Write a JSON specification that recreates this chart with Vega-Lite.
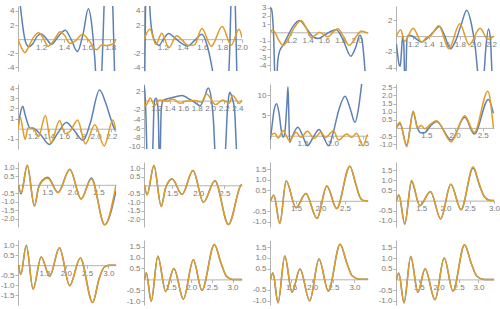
{
"$schema":"https://vega.github.io/schema/vega-lite/v6.json",
"padding":{"left":0,"top":3,"right":0,"bottom":0},
"datasets":{
"p1":[{"s":"a","x":1.0,"y":10},{"s":"a","x":1.01,"y":7},{"s":"a","x":1.04,"y":2},{"s":"a","x":1.07,"y":-0.6},{"s":"a","x":1.095,"y":-1.05},{"s":"a","x":1.13,"y":-0.6},{"s":"a","x":1.165,"y":0.4},{"s":"a","x":1.2,"y":0.75},{"s":"a","x":1.25,"y":0},{"s":"a","x":1.29,"y":-0.75},{"s":"a","x":1.35,"y":0.4},{"s":"a","x":1.41,"y":1.25},{"s":"a","x":1.46,"y":0},{"s":"a","x":1.515,"y":-1.75},{"s":"a","x":1.565,"y":0.8},{"s":"a","x":1.61,"y":4.3},{"s":"a","x":1.64,"y":2},{"s":"a","x":1.665,"y":-2.5},{"s":"a","x":1.69,"y":-8},{"s":"a","x":1.715,"y":-8},{"s":"a","x":1.735,"y":-1},{"s":"a","x":1.755,"y":8},{"s":"a","x":1.79,"y":12},{"s":"a","x":1.815,"y":8},{"s":"a","x":1.83,"y":0},{"s":"a","x":1.845,"y":-9},{"s":"a","x":1.855,"y":-12},
{"s":"b","x":1.0,"y":0},{"s":"b","x":1.03,"y":-1.2},{"s":"b","x":1.06,"y":-1.9},{"s":"b","x":1.1,"y":-0.8},{"s":"b","x":1.14,"y":0.4},{"s":"b","x":1.18,"y":0.9},{"s":"b","x":1.22,"y":0.1},{"s":"b","x":1.26,"y":-1.0},{"s":"b","x":1.31,"y":-0.2},{"s":"b","x":1.365,"y":1.05},{"s":"b","x":1.41,"y":0.4},{"s":"b","x":1.45,"y":-0.6},{"s":"b","x":1.5,"y":-0.2},{"s":"b","x":1.56,"y":0.7},{"s":"b","x":1.62,"y":-0.3},{"s":"b","x":1.68,"y":-1.5},{"s":"b","x":1.73,"y":-0.8},{"s":"b","x":1.77,"y":-0.9},{"s":"b","x":1.81,"y":-0.75},{"s":"b","x":1.835,"y":-0.5},{"s":"b","x":1.85,"y":0}],
"p2":[{"s":"a","x":1.01,"y":-14},{"s":"a","x":1.02,"y":-2},{"s":"a","x":1.03,"y":8},{"s":"a","x":1.045,"y":10},{"s":"a","x":1.06,"y":7},{"s":"a","x":1.075,"y":3},{"s":"a","x":1.1,"y":0.5},{"s":"a","x":1.13,"y":-0.5},{"s":"a","x":1.16,"y":-0.86},{"s":"a","x":1.21,"y":0.1},{"s":"a","x":1.26,"y":0.8},{"s":"a","x":1.32,"y":0.2},{"s":"a","x":1.38,"y":-0.5},{"s":"a","x":1.45,"y":-0.95},{"s":"a","x":1.52,"y":-0.2},{"s":"a","x":1.595,"y":0.7},{"s":"a","x":1.65,"y":-1.0},{"s":"a","x":1.69,"y":-3.5},{"s":"a","x":1.72,"y":-6},{"s":"a","x":1.78,"y":-14},{"s":"a","x":1.85,"y":-8},{"s":"a","x":1.875,"y":-2},{"s":"a","x":1.89,"y":6},{"s":"a","x":1.91,"y":12},{"s":"a","x":1.93,"y":6},{"s":"a","x":1.945,"y":-3},{"s":"a","x":1.96,"y":-12},{"s":"a","x":2.0,"y":-20},
{"s":"b","x":1.01,"y":0},{"s":"b","x":1.07,"y":1.4},{"s":"b","x":1.13,"y":-0.7},{"s":"b","x":1.19,"y":0.85},{"s":"b","x":1.26,"y":-1.2},{"s":"b","x":1.34,"y":0.5},{"s":"b","x":1.4,"y":-0.2},{"s":"b","x":1.46,"y":-0.9},{"s":"b","x":1.52,"y":-0.8},{"s":"b","x":1.595,"y":1.5},{"s":"b","x":1.69,"y":-1.0},{"s":"b","x":1.8,"y":1.8},{"s":"b","x":1.89,"y":-0.85},{"s":"b","x":1.97,"y":1.4},{"s":"b","x":2.0,"y":0.2}],
"p3":[{"s":"a","x":0.943,"y":3.0},{"s":"a","x":0.955,"y":2.9},{"s":"a","x":0.97,"y":2.0},{"s":"a","x":0.985,"y":-0.5},{"s":"a","x":0.997,"y":-5},{"s":"a","x":1.01,"y":-9},{"s":"a","x":1.022,"y":-6},{"s":"a","x":1.035,"y":-3.5},{"s":"a","x":1.06,"y":-2.2},{"s":"a","x":1.1,"y":-1.6},{"s":"a","x":1.15,"y":-0.6},{"s":"a","x":1.22,"y":0.7},{"s":"a","x":1.3,"y":1.45},{"s":"a","x":1.38,"y":0.6},{"s":"a","x":1.45,"y":-0.4},{"s":"a","x":1.53,"y":-0.75},{"s":"a","x":1.6,"y":-0.4},{"s":"a","x":1.68,"y":0.1},{"s":"a","x":1.75,"y":0.3},{"s":"a","x":1.83,"y":-0.8},{"s":"a","x":1.93,"y":-2.9},{"s":"a","x":1.99,"y":-1.8},{"s":"a","x":2.04,"y":-0.35},{"s":"a","x":2.065,"y":-0.8},{"s":"a","x":2.09,"y":-3.0},{"s":"a","x":2.11,"y":-5.5},{"s":"a","x":2.14,"y":-9},
{"s":"b","x":0.945,"y":0},{"s":"b","x":0.975,"y":0.3},{"s":"b","x":1.0,"y":0},{"s":"b","x":1.05,"y":-1.0},{"s":"b","x":1.1,"y":-1.6},{"s":"b","x":1.17,"y":-0.7},{"s":"b","x":1.24,"y":0.6},{"s":"b","x":1.32,"y":1.45},{"s":"b","x":1.39,"y":0.4},{"s":"b","x":1.445,"y":-0.67},{"s":"b","x":1.5,"y":-0.3},{"s":"b","x":1.547,"y":0},{"s":"b","x":1.6,"y":-0.3},{"s":"b","x":1.65,"y":-0.54},{"s":"b","x":1.71,"y":0},{"s":"b","x":1.77,"y":0.42},{"s":"b","x":1.84,"y":-0.5},{"s":"b","x":1.91,"y":-1.58},{"s":"b","x":1.99,"y":-0.6},{"s":"b","x":2.06,"y":0.17},{"s":"b","x":2.1,"y":0.05},{"s":"b","x":2.14,"y":-0.1}],
"p4":[{"s":"a","x":0.985,"y":-1.0},{"s":"a","x":1.0,"y":-2.2},{"s":"a","x":1.02,"y":-3.6},{"s":"a","x":1.035,"y":-3.8},{"s":"a","x":1.05,"y":-2.0},{"s":"a","x":1.065,"y":0},{"s":"a","x":1.08,"y":-1.0},{"s":"a","x":1.09,"y":-5},{"s":"a","x":1.1,"y":-7},{"s":"a","x":1.11,"y":-4},{"s":"a","x":1.12,"y":-0.5},{"s":"a","x":1.14,"y":0.1},{"s":"a","x":1.2,"y":-0.05},{"s":"a","x":1.26,"y":-0.5},{"s":"a","x":1.31,"y":-0.75},{"s":"a","x":1.38,"y":-0.3},{"s":"a","x":1.46,"y":0.5},{"s":"a","x":1.54,"y":1.2},{"s":"a","x":1.6,"y":0.2},{"s":"a","x":1.68,"y":-1.6},{"s":"a","x":1.75,"y":-0.5},{"s":"a","x":1.82,"y":1.5},{"s":"a","x":1.89,"y":3.25},{"s":"a","x":1.95,"y":1.5},{"s":"a","x":2.0,"y":-1.5},{"s":"a","x":2.03,"y":-4.5},{"s":"a","x":2.06,"y":-7},{"s":"a","x":2.08,"y":-7},{"s":"a","x":2.11,"y":-5},{"s":"a","x":2.135,"y":-1.5},{"s":"a","x":2.17,"y":0.9},{"s":"a","x":2.195,"y":-0.5},{"s":"a","x":2.215,"y":-5},{"s":"a","x":2.24,"y":-10},
{"s":"b","x":0.985,"y":0},{"s":"b","x":1.04,"y":0.8},{"s":"b","x":1.09,"y":-0.65},{"s":"b","x":1.2,"y":1.0},{"s":"b","x":1.31,"y":-0.75},{"s":"b","x":1.37,"y":-0.2},{"s":"b","x":1.43,"y":0.1},{"s":"b","x":1.53,"y":1.3},{"s":"b","x":1.66,"y":-1.6},{"s":"b","x":1.8,"y":1.55},{"s":"b","x":1.92,"y":-1.1},{"s":"b","x":2.06,"y":1.0},{"s":"b","x":2.16,"y":-0.4},{"s":"b","x":2.24,"y":0}],
"p5":[{"s":"a","x":1.01,"y":0},{"s":"a","x":1.04,"y":1.5},{"s":"a","x":1.07,"y":2.2},{"s":"a","x":1.1,"y":1.4},{"s":"a","x":1.16,"y":0.1},{"s":"a","x":1.22,"y":0},{"s":"a","x":1.3,"y":-0.6},{"s":"a","x":1.41,"y":-1.55},{"s":"a","x":1.52,"y":-0.4},{"s":"a","x":1.625,"y":0.6},{"s":"a","x":1.73,"y":-0.2},{"s":"a","x":1.84,"y":-1.15},{"s":"a","x":1.93,"y":0.5},{"s":"a","x":2.05,"y":3.8},{"s":"a","x":2.13,"y":2.5},{"s":"a","x":2.2,"y":0.8},{"s":"a","x":2.24,"y":0},{"s":"a","x":2.26,"y":-0.25},
{"s":"b","x":1.01,"y":0},{"s":"b","x":1.04,"y":1.1},{"s":"b","x":1.07,"y":0},{"s":"b","x":1.1,"y":-1.05},{"s":"b","x":1.14,"y":0.1},{"s":"b","x":1.2,"y":0.1},{"s":"b","x":1.27,"y":-0.8},{"s":"b","x":1.36,"y":1.3},{"s":"b","x":1.43,"y":-1.4},{"s":"b","x":1.54,"y":0.8},{"s":"b","x":1.61,"y":-0.5},{"s":"b","x":1.68,"y":-0.2},{"s":"b","x":1.77,"y":0.85},{"s":"b","x":1.87,"y":-1.5},{"s":"b","x":1.99,"y":0.4},{"s":"b","x":2.11,"y":-1.7},{"s":"b","x":2.22,"y":0.85},{"s":"b","x":2.26,"y":-0.25}],
"p6":[{"s":"a","x":1.02,"y":3.3},{"s":"a","x":1.035,"y":1.5},{"s":"a","x":1.05,"y":-4},{"s":"a","x":1.06,"y":-10},{"s":"a","x":1.08,"y":-16},{"s":"a","x":1.13,"y":-16},{"s":"a","x":1.155,"y":-8},{"s":"a","x":1.166,"y":-2},{"s":"a","x":1.18,"y":0.2},{"s":"a","x":1.2,"y":0.5},{"s":"a","x":1.22,"y":-0.5},{"s":"a","x":1.235,"y":-5},{"s":"a","x":1.243,"y":-12},{"s":"a","x":1.255,"y":-16},{"s":"a","x":1.265,"y":-8},{"s":"a","x":1.275,"y":-2},{"s":"a","x":1.3,"y":0},{"s":"a","x":1.4,"y":0.5},{"s":"a","x":1.5,"y":0.9},{"s":"a","x":1.585,"y":1.1},{"s":"a","x":1.67,"y":0.5},{"s":"a","x":1.75,"y":-0.15},{"s":"a","x":1.85,"y":-1.1},{"s":"a","x":1.91,"y":0.5},{"s":"a","x":1.97,"y":2.75},{"s":"a","x":2.02,"y":0},{"s":"a","x":2.05,"y":-5},{"s":"a","x":2.07,"y":-11},{"s":"a","x":2.12,"y":-16},{"s":"a","x":2.2,"y":-16},{"s":"a","x":2.235,"y":-8},{"s":"a","x":2.25,"y":-3},{"s":"a","x":2.27,"y":0.5},{"s":"a","x":2.29,"y":1.8},{"s":"a","x":2.32,"y":0.8},{"s":"a","x":2.36,"y":-2},{"s":"a","x":2.38,"y":-8},{"s":"a","x":2.4,"y":-14},{"s":"a","x":2.47,"y":-20},
{"s":"b","x":1.02,"y":-0.3},{"s":"b","x":1.045,"y":-1.1},{"s":"b","x":1.113,"y":0.58},{"s":"b","x":1.176,"y":-1.09},{"s":"b","x":1.248,"y":0.14},{"s":"b","x":1.368,"y":-0.14},{"s":"b","x":1.44,"y":0.36},{"s":"b","x":1.56,"y":-0.58},{"s":"b","x":1.63,"y":-0.14},{"s":"b","x":1.777,"y":0},{"s":"b","x":1.87,"y":-0.36},{"s":"b","x":1.945,"y":1.45},{"s":"b","x":2.08,"y":-0.87},{"s":"b","x":2.186,"y":0.14},{"s":"b","x":2.28,"y":-0.58},{"s":"b","x":2.33,"y":1.09},{"s":"b","x":2.43,"y":-0.58},{"s":"b","x":2.47,"y":0.14}],
"p7":[{"s":"a","x":0.965,"y":-1.0},{"s":"a","x":0.99,"y":2},{"s":"a","x":1.03,"y":6.5},{"s":"a","x":1.07,"y":7.9},{"s":"a","x":1.11,"y":5.5},{"s":"a","x":1.15,"y":1.0},{"s":"a","x":1.18,"y":-0.4},{"s":"a","x":1.21,"y":1.5},{"s":"a","x":1.24,"y":8},{"s":"a","x":1.257,"y":12.1},{"s":"a","x":1.27,"y":6},{"s":"a","x":1.285,"y":-1.7},{"s":"a","x":1.32,"y":-0.5},{"s":"a","x":1.42,"y":2.1},{"s":"a","x":1.5,"y":0},{"s":"a","x":1.58,"y":-2.5},{"s":"a","x":1.67,"y":-0.5},{"s":"a","x":1.77,"y":1.5},{"s":"a","x":1.85,"y":-0.5},{"s":"a","x":1.93,"y":-2.5},{"s":"a","x":2.0,"y":0.5},{"s":"a","x":2.1,"y":6.5},{"s":"a","x":2.2,"y":9.75},{"s":"a","x":2.29,"y":6.5},{"s":"a","x":2.365,"y":3.3},{"s":"a","x":2.42,"y":6.5},{"s":"a","x":2.47,"y":12.1},{"s":"a","x":2.5,"y":16},
{"s":"b","x":0.965,"y":0},{"s":"b","x":1.04,"y":0.58},{"s":"b","x":1.095,"y":-0.58},{"s":"b","x":1.176,"y":1.25},{"s":"b","x":1.284,"y":-1.25},{"s":"b","x":1.39,"y":0.83},{"s":"b","x":1.47,"y":-0.42},{"s":"b","x":1.58,"y":1.08},{"s":"b","x":1.69,"y":-0.67},{"s":"b","x":1.8,"y":0.83},{"s":"b","x":1.88,"y":-0.42},{"s":"b","x":2.01,"y":1.25},{"s":"b","x":2.09,"y":-1.08},{"s":"b","x":2.23,"y":0.42},{"s":"b","x":2.31,"y":-0.42},{"s":"b","x":2.39,"y":0.58},{"s":"b","x":2.5,"y":-2.5},{"s":"b","x":2.565,"y":0},{"s":"b","x":2.58,"y":0.3}],
"p8":[{"s":"a","x":0.965,"y":0},{"s":"a","x":1.03,"y":0.25},{"s":"a","x":1.15,"y":-1.05},{"s":"a","x":1.265,"y":0.95},{"s":"a","x":1.34,"y":0},{"s":"a","x":1.4,"y":-0.3},{"s":"a","x":1.46,"y":-0.3},{"s":"a","x":1.58,"y":0.15},{"s":"a","x":1.68,"y":0.4},{"s":"a","x":1.94,"y":-0.75},{"s":"a","x":2.18,"y":0.65},{"s":"a","x":2.35,"y":-0.38},{"s":"a","x":2.6,"y":1.75},{"s":"a","x":2.69,"y":0.9},
{"s":"b","x":0.965,"y":0},{"s":"b","x":1.03,"y":0.34},{"s":"b","x":1.15,"y":-1.16},{"s":"b","x":1.265,"y":1.04},{"s":"b","x":1.34,"y":0},{"s":"b","x":1.41,"y":0.14},{"s":"b","x":1.47,"y":-0.05},{"s":"b","x":1.58,"y":0.25},{"s":"b","x":1.68,"y":0.44},{"s":"b","x":1.94,"y":-0.86},{"s":"b","x":2.18,"y":0.74},{"s":"b","x":2.35,"y":-0.28},{"s":"b","x":2.59,"y":2.25},{"s":"b","x":2.69,"y":0}],
"p9":[{"s":"a","x":0.94,"y":0},{"s":"a","x":0.99,"y":-0.55},{"s":"a","x":1.11,"y":1.16},{"s":"a","x":1.25,"y":-1.25},{"s":"a","x":1.33,"y":-0.15},{"s":"a","x":1.4,"y":0.25},{"s":"a","x":1.51,"y":0.45},{"s":"a","x":1.71,"y":-0.45},{"s":"a","x":1.94,"y":0.92},{"s":"a","x":2.16,"y":-0.84},{"s":"a","x":2.36,"y":0.4},{"s":"a","x":2.62,"y":-2.37},{"s":"a","x":2.84,"y":-0.35},
{"s":"b","x":0.94,"y":0},{"s":"b","x":0.99,"y":-0.47},{"s":"b","x":1.11,"y":1.16},{"s":"b","x":1.25,"y":-1.25},{"s":"b","x":1.33,"y":-0.2},{"s":"b","x":1.4,"y":0.2},{"s":"b","x":1.51,"y":0.39},{"s":"b","x":1.71,"y":-0.47},{"s":"b","x":1.94,"y":0.9},{"s":"b","x":2.16,"y":-0.84},{"s":"b","x":2.36,"y":0.35},{"s":"b","x":2.62,"y":-2.37},{"s":"b","x":2.84,"y":0}],
"p10":[{"s":"a","x":0.97,"y":0},{"s":"a","x":1.02,"y":-0.56},{"s":"a","x":1.15,"y":1.16},{"s":"a","x":1.29,"y":-1.24},{"s":"a","x":1.37,"y":-0.2},{"s":"a","x":1.42,"y":0.15},{"s":"a","x":1.5,"y":0.36},{"s":"a","x":1.69,"y":-0.54},{"s":"a","x":1.9,"y":0.86},{"s":"a","x":2.1,"y":-1.0},{"s":"a","x":2.32,"y":0.26},{"s":"a","x":2.58,"y":-2.3},{"s":"a","x":2.82,"y":0},{"s":"a","x":2.84,"y":0.05},
{"s":"b","x":0.97,"y":0},{"s":"b","x":1.02,"y":-0.56},{"s":"b","x":1.15,"y":1.16},{"s":"b","x":1.29,"y":-1.24},{"s":"b","x":1.37,"y":-0.2},{"s":"b","x":1.42,"y":0.15},{"s":"b","x":1.5,"y":0.36},{"s":"b","x":1.69,"y":-0.54},{"s":"b","x":1.9,"y":0.86},{"s":"b","x":2.1,"y":-1.0},{"s":"b","x":2.32,"y":0.26},{"s":"b","x":2.58,"y":-2.3},{"s":"b","x":2.82,"y":0},{"s":"b","x":2.84,"y":0.05}],
"p11":[{"s":"a","x":0.98,"y":0},{"s":"a","x":1.05,"y":0.27},{"s":"a","x":1.17,"y":-1.08},{"s":"a","x":1.3,"y":0.94},{"s":"a","x":1.5,"y":-0.33},{"s":"a","x":1.7,"y":0.35},{"s":"a","x":1.93,"y":-0.84},{"s":"a","x":2.13,"y":0.7},{"s":"a","x":2.33,"y":-0.37},{"s":"a","x":2.6,"y":1.65},{"s":"a","x":2.72,"y":0.8},{"s":"a","x":2.8,"y":0.2},{"s":"a","x":2.87,"y":0.02},{"s":"a","x":2.97,"y":0},
{"s":"b","x":0.98,"y":0},{"s":"b","x":1.05,"y":0.27},{"s":"b","x":1.17,"y":-1.08},{"s":"b","x":1.3,"y":0.94},{"s":"b","x":1.5,"y":-0.33},{"s":"b","x":1.7,"y":0.35},{"s":"b","x":1.93,"y":-0.84},{"s":"b","x":2.13,"y":0.7},{"s":"b","x":2.33,"y":-0.37},{"s":"b","x":2.6,"y":1.65},{"s":"b","x":2.72,"y":0.8},{"s":"b","x":2.8,"y":0.2},{"s":"b","x":2.87,"y":0.02},{"s":"b","x":2.97,"y":0}],
"p12":[{"s":"a","x":0.99,"y":0},{"s":"a","x":1.04,"y":0.28},{"s":"a","x":1.16,"y":-1.15},{"s":"a","x":1.3,"y":0.93},{"s":"a","x":1.47,"y":-0.25},{"s":"a","x":1.69,"y":0.45},{"s":"a","x":1.9,"y":-0.9},{"s":"a","x":2.11,"y":0.8},{"s":"a","x":2.32,"y":-0.45},{"s":"a","x":2.57,"y":1.6},{"s":"a","x":2.7,"y":0.75},{"s":"a","x":2.8,"y":0.2},{"s":"a","x":2.9,"y":0.02},{"s":"a","x":3.0,"y":0},
{"s":"b","x":0.99,"y":0},{"s":"b","x":1.04,"y":0.28},{"s":"b","x":1.16,"y":-1.15},{"s":"b","x":1.3,"y":1.0},{"s":"b","x":1.47,"y":-0.25},{"s":"b","x":1.69,"y":0.45},{"s":"b","x":1.9,"y":-0.9},{"s":"b","x":2.11,"y":0.8},{"s":"b","x":2.32,"y":-0.45},{"s":"b","x":2.57,"y":1.67},{"s":"b","x":2.7,"y":0.8},{"s":"b","x":2.8,"y":0.2},{"s":"b","x":2.9,"y":0.02},{"s":"b","x":3.0,"y":0}],
"p13":[{"s":"a","x":0.89,"y":0},{"s":"a","x":0.94,"y":-0.47},{"s":"a","x":1.07,"y":1.0},{"s":"a","x":1.23,"y":-1.2},{"s":"a","x":1.42,"y":0.42},{"s":"a","x":1.62,"y":-0.56},{"s":"a","x":1.85,"y":0.88},{"s":"a","x":2.09,"y":-1.03},{"s":"a","x":2.34,"y":0.37},{"s":"a","x":2.63,"y":-1.88},{"s":"a","x":2.78,"y":-0.7},{"s":"a","x":2.9,"y":-0.1},{"s":"a","x":3.02,"y":0},{"s":"a","x":3.18,"y":0},
{"s":"b","x":0.89,"y":0},{"s":"b","x":0.94,"y":-0.47},{"s":"b","x":1.07,"y":1.0},{"s":"b","x":1.23,"y":-1.2},{"s":"b","x":1.42,"y":0.42},{"s":"b","x":1.62,"y":-0.56},{"s":"b","x":1.85,"y":0.88},{"s":"b","x":2.09,"y":-1.03},{"s":"b","x":2.34,"y":0.37},{"s":"b","x":2.63,"y":-1.88},{"s":"b","x":2.78,"y":-0.7},{"s":"b","x":2.9,"y":-0.1},{"s":"b","x":3.02,"y":0},{"s":"b","x":3.18,"y":0}],
"p14":[{"s":"a","x":0.87,"y":0},{"s":"a","x":0.91,"y":0.3},{"s":"a","x":1.03,"y":-1.0},{"s":"a","x":1.19,"y":1.06},{"s":"a","x":1.38,"y":-0.55},{"s":"a","x":1.58,"y":0.5},{"s":"a","x":1.81,"y":-0.9},{"s":"a","x":2.05,"y":0.9},{"s":"a","x":2.26,"y":-0.5},{"s":"a","x":2.56,"y":1.6},{"s":"a","x":2.72,"y":0.75},{"s":"a","x":2.85,"y":0.15},{"s":"a","x":3.0,"y":0},{"s":"a","x":3.23,"y":0},
{"s":"b","x":0.87,"y":0},{"s":"b","x":0.91,"y":0.3},{"s":"b","x":1.03,"y":-1.0},{"s":"b","x":1.19,"y":1.06},{"s":"b","x":1.38,"y":-0.55},{"s":"b","x":1.58,"y":0.5},{"s":"b","x":1.81,"y":-0.9},{"s":"b","x":2.05,"y":0.9},{"s":"b","x":2.26,"y":-0.5},{"s":"b","x":2.56,"y":1.6},{"s":"b","x":2.72,"y":0.75},{"s":"b","x":2.85,"y":0.15},{"s":"b","x":3.0,"y":0},{"s":"b","x":3.23,"y":0}],
"p15":[{"s":"a","x":1.01,"y":0},{"s":"a","x":1.07,"y":0.29},{"s":"a","x":1.19,"y":-1.1},{"s":"a","x":1.35,"y":1.08},{"s":"a","x":1.52,"y":-0.6},{"s":"a","x":1.71,"y":0.48},{"s":"a","x":1.94,"y":-1.0},{"s":"a","x":2.16,"y":0.95},{"s":"a","x":2.38,"y":-0.55},{"s":"a","x":2.66,"y":1.63},{"s":"a","x":2.82,"y":0.75},{"s":"a","x":2.95,"y":0.15},{"s":"a","x":3.13,"y":0},{"s":"a","x":3.32,"y":0},
{"s":"b","x":1.01,"y":0},{"s":"b","x":1.07,"y":0.29},{"s":"b","x":1.19,"y":-1.1},{"s":"b","x":1.35,"y":1.08},{"s":"b","x":1.52,"y":-0.6},{"s":"b","x":1.71,"y":0.48},{"s":"b","x":1.94,"y":-1.0},{"s":"b","x":2.16,"y":0.95},{"s":"b","x":2.38,"y":-0.55},{"s":"b","x":2.66,"y":1.63},{"s":"b","x":2.82,"y":0.75},{"s":"b","x":2.95,"y":0.15},{"s":"b","x":3.13,"y":0},{"s":"b","x":3.32,"y":0}],
"p16":[{"s":"a","x":0.945,"y":0},{"s":"a","x":1.0,"y":0.3},{"s":"a","x":1.13,"y":-1.1},{"s":"a","x":1.3,"y":1.08},{"s":"a","x":1.48,"y":-0.6},{"s":"a","x":1.66,"y":0.5},{"s":"a","x":1.91,"y":-0.95},{"s":"a","x":2.14,"y":1.0},{"s":"a","x":2.36,"y":-0.55},{"s":"a","x":2.65,"y":1.63},{"s":"a","x":2.82,"y":0.75},{"s":"a","x":2.96,"y":0.15},{"s":"a","x":3.14,"y":0},{"s":"a","x":3.39,"y":0},
{"s":"b","x":0.945,"y":0},{"s":"b","x":1.0,"y":0.3},{"s":"b","x":1.13,"y":-1.1},{"s":"b","x":1.3,"y":1.08},{"s":"b","x":1.48,"y":-0.6},{"s":"b","x":1.66,"y":0.5},{"s":"b","x":1.91,"y":-0.95},{"s":"b","x":2.14,"y":1.0},{"s":"b","x":2.36,"y":-0.55},{"s":"b","x":2.65,"y":1.63},{"s":"b","x":2.82,"y":0.75},{"s":"b","x":2.96,"y":0.15},{"s":"b","x":3.14,"y":0},{"s":"b","x":3.39,"y":0}]
},
"columns":4,
"bounds":"flush",
"spacing":{"row":13,"column":28},
"concat":[
{"data":{"name":"p1"},"width":98,"height":65,"mark":{"type":"line","clip":true,"interpolate":"monotone","strokeWidth":1.5},"encoding":{"x":{"field":"x","type":"quantitative","scale":{"domain":[1.0,1.85],"nice":false,"zero":false},"axis":{"title":null,"values":[1.2,1.4,1.6,1.8],"format":".1f","offset":-31.8}},"y":{"field":"y","type":"quantitative","scale":{"domain":[-4.5,4.7],"nice":false,"zero":false},"axis":{"title":null,"values":[-4,-2,2,4],"labelExpr":"datum.value < 0 ? '-' + format(-datum.value, 'd') : format(datum.value, 'd')"}},"color":{"field":"s","type":"nominal","scale":{"domain":["a","b"],"range":["#5E81B5","#E19C24"]},"legend":null}}},
{"data":{"name":"p2"},"width":98,"height":65,"mark":{"type":"line","clip":true,"interpolate":"monotone","strokeWidth":1.5},"encoding":{"x":{"field":"x","type":"quantitative","scale":{"domain":[1.01,2.0],"nice":false,"zero":false},"axis":{"title":null,"values":[1.2,1.4,1.6,1.8,2.0],"format":".1f","offset":-31.8}},"y":{"field":"y","type":"quantitative","scale":{"domain":[-4.5,4.7],"nice":false,"zero":false},"axis":{"title":null,"values":[-4,-2,2,4],"labelExpr":"datum.value < 0 ? '-' + format(-datum.value, 'd') : format(datum.value, 'd')"}},"color":{"field":"s","type":"nominal","scale":{"domain":["a","b"],"range":["#5E81B5","#E19C24"]},"legend":null}}},
{"data":{"name":"p3"},"width":98,"height":65,"mark":{"type":"line","clip":true,"interpolate":"monotone","strokeWidth":1.5},"encoding":{"x":{"field":"x","type":"quantitative","scale":{"domain":[0.94,2.14],"nice":false,"zero":false},"axis":{"title":null,"values":[1.2,1.4,1.6,1.8,2.0],"format":".1f","offset":-38.7}},"y":{"field":"y","type":"quantitative","scale":{"domain":[-4.7,3.2],"nice":false,"zero":false},"axis":{"title":null,"values":[-4,-3,-2,-1,1,2,3],"labelExpr":"datum.value < 0 ? '-' + format(-datum.value, 'd') : format(datum.value, 'd')"}},"color":{"field":"s","type":"nominal","scale":{"domain":["a","b"],"range":["#5E81B5","#E19C24"]},"legend":null}}},
{"data":{"name":"p4"},"width":98,"height":65,"mark":{"type":"line","clip":true,"interpolate":"monotone","strokeWidth":1.5},"encoding":{"x":{"field":"x","type":"quantitative","scale":{"domain":[0.98,2.24],"nice":false,"zero":false},"axis":{"title":null,"values":[1.2,1.4,1.6,1.8,2.0,2.2],"format":".1f","offset":-34.9}},"y":{"field":"y","type":"quantitative","scale":{"domain":[-4.4,3.8],"nice":false,"zero":false},"axis":{"title":null,"values":[-4,-2,2],"labelExpr":"datum.value < 0 ? '-' + format(-datum.value, 'd') : format(datum.value, 'd')"}},"color":{"field":"s","type":"nominal","scale":{"domain":["a","b"],"range":["#5E81B5","#E19C24"]},"legend":null}}},
{"data":{"name":"p5"},"width":98,"height":65,"mark":{"type":"line","clip":true,"interpolate":"monotone","strokeWidth":1.5},"encoding":{"x":{"field":"x","type":"quantitative","scale":{"domain":[1.01,2.26],"nice":false,"zero":false},"axis":{"title":null,"values":[1.2,1.4,1.6,1.8,2.0,2.2],"format":".1f","offset":-20.3}},"y":{"field":"y","type":"quantitative","scale":{"domain":[-2.0,4.4],"nice":false,"zero":false},"axis":{"title":null,"values":[-1,1,2,3,4],"labelExpr":"datum.value < 0 ? '-' + format(-datum.value, 'd') : format(datum.value, 'd')"}},"color":{"field":"s","type":"nominal","scale":{"domain":["a","b"],"range":["#5E81B5","#E19C24"]},"legend":null}}},
{"data":{"name":"p6"},"width":98,"height":65,"mark":{"type":"line","clip":true,"interpolate":"monotone","strokeWidth":1.5},"encoding":{"x":{"field":"x","type":"quantitative","scale":{"domain":[1.02,2.47],"nice":false,"zero":false},"axis":{"title":null,"values":[1.2,1.4,1.6,1.8,2.0,2.2,2.4],"format":".1f","offset":-48.4}},"y":{"field":"y","type":"quantitative","scale":{"domain":[-10.5,3.6],"nice":false,"zero":false},"axis":{"title":null,"values":[-10,-8,-6,-4,-2,2],"labelExpr":"datum.value < 0 ? '-' + format(-datum.value, 'd') : format(datum.value, 'd')"}},"color":{"field":"s","type":"nominal","scale":{"domain":["a","b"],"range":["#5E81B5","#E19C24"]},"legend":null}}},
{"data":{"name":"p7"},"width":98,"height":65,"mark":{"type":"line","clip":true,"interpolate":"monotone","strokeWidth":1.5},"encoding":{"x":{"field":"x","type":"quantitative","scale":{"domain":[0.96,2.58],"nice":false,"zero":false},"axis":{"title":null,"values":[1.5,2.0,2.5],"format":".1f","offset":-13.3}},"y":{"field":"y","type":"quantitative","scale":{"domain":[-3.3,12.8],"nice":false,"zero":false},"axis":{"title":null,"values":[5,10],"labelExpr":"format(datum.value, 'd')"}},"color":{"field":"s","type":"nominal","scale":{"domain":["a","b"],"range":["#5E81B5","#E19C24"]},"legend":null}}},
{"data":{"name":"p8"},"width":98,"height":65,"mark":{"type":"line","clip":true,"interpolate":"monotone","strokeWidth":1.5},"encoding":{"x":{"field":"x","type":"quantitative","scale":{"domain":[0.96,2.7],"nice":false,"zero":false},"axis":{"title":null,"values":[1.5,2.0,2.5],"format":".1f","offset":-21.1}},"y":{"field":"y","type":"quantitative","scale":{"domain":[-1.3,2.7],"nice":false,"zero":false},"axis":{"title":null,"values":[-1,-0.5,0.5,1,1.5,2,2.5],"labelFontSize":7.5,"labelExpr":"datum.value < 0 ? '-' + format(-datum.value, '.1f') : format(datum.value, '.1f')"}},"color":{"field":"s","type":"nominal","scale":{"domain":["a","b"],"range":["#5E81B5","#E19C24"]},"legend":null}}},
{"data":{"name":"p9"},"width":98,"height":65,"mark":{"type":"line","clip":true,"interpolate":"monotone","strokeWidth":1.5},"encoding":{"x":{"field":"x","type":"quantitative","scale":{"domain":[0.93,2.84],"nice":false,"zero":false},"axis":{"title":null,"values":[1.5,2.0,2.5],"format":".1f","offset":-42.2}},"y":{"field":"y","type":"quantitative","scale":{"domain":[-2.5,1.35],"nice":false,"zero":false},"axis":{"title":null,"values":[-2,-1.5,-1,-0.5,0.5,1],"labelFontSize":7.5,"labelExpr":"datum.value < 0 ? '-' + format(-datum.value, '.1f') : format(datum.value, '.1f')"}},"color":{"field":"s","type":"nominal","scale":{"domain":["a","b"],"range":["#5E81B5","#E19C24"]},"legend":null}}},
{"data":{"name":"p10"},"width":98,"height":65,"mark":{"type":"line","clip":true,"interpolate":"monotone","strokeWidth":1.5},"encoding":{"x":{"field":"x","type":"quantitative","scale":{"domain":[0.96,2.84],"nice":false,"zero":false},"axis":{"title":null,"values":[1.5,2.0,2.5],"format":".1f","offset":-41.7}},"y":{"field":"y","type":"quantitative","scale":{"domain":[-2.44,1.36],"nice":false,"zero":false},"axis":{"title":null,"values":[-2,-1.5,-1,-0.5,0.5,1],"labelFontSize":7.5,"labelExpr":"datum.value < 0 ? '-' + format(-datum.value, '.1f') : format(datum.value, '.1f')"}},"color":{"field":"s","type":"nominal","scale":{"domain":["a","b"],"range":["#5E81B5","#E19C24"]},"legend":null}}},
{"data":{"name":"p11"},"width":98,"height":65,"mark":{"type":"line","clip":true,"interpolate":"monotone","strokeWidth":1.5},"encoding":{"x":{"field":"x","type":"quantitative","scale":{"domain":[0.97,2.97],"nice":false,"zero":false},"axis":{"title":null,"values":[1.5,2.0,2.5],"format":".1f","offset":-26.2}},"y":{"field":"y","type":"quantitative","scale":{"domain":[-1.25,1.85],"nice":false,"zero":false},"axis":{"title":null,"values":[-1,-0.5,0.5,1,1.5],"labelExpr":"datum.value < 0 ? '-' + format(-datum.value, '.1f') : format(datum.value, '.1f')"}},"color":{"field":"s","type":"nominal","scale":{"domain":["a","b"],"range":["#5E81B5","#E19C24"]},"legend":null}}},
{"data":{"name":"p12"},"width":98,"height":65,"mark":{"type":"line","clip":true,"interpolate":"monotone","strokeWidth":1.5},"encoding":{"x":{"field":"x","type":"quantitative","scale":{"domain":[0.98,3.0],"nice":false,"zero":false},"axis":{"title":null,"values":[1.5,2.0,2.5,3.0],"format":".1f","offset":-26.4}},"y":{"field":"y","type":"quantitative","scale":{"domain":[-1.3,1.9],"nice":false,"zero":false},"axis":{"title":null,"values":[-1,-0.5,0.5,1,1.5],"labelExpr":"datum.value < 0 ? '-' + format(-datum.value, '.1f') : format(datum.value, '.1f')"}},"color":{"field":"s","type":"nominal","scale":{"domain":["a","b"],"range":["#5E81B5","#E19C24"]},"legend":null}}},
{"data":{"name":"p13"},"width":98,"height":65,"mark":{"type":"line","clip":true,"interpolate":"monotone","strokeWidth":1.5},"encoding":{"x":{"field":"x","type":"quantitative","scale":{"domain":[0.875,3.18],"nice":false,"zero":false},"axis":{"title":null,"values":[1.5,2.0,2.5,3.0],"format":".1f","offset":-39.8}},"y":{"field":"y","type":"quantitative","scale":{"domain":[-2.0,1.27],"nice":false,"zero":false},"axis":{"title":null,"values":[-1.5,-1,-0.5,0.5,1],"labelExpr":"datum.value < 0 ? '-' + format(-datum.value, '.1f') : format(datum.value, '.1f')"}},"color":{"field":"s","type":"nominal","scale":{"domain":["a","b"],"range":["#5E81B5","#E19C24"]},"legend":null}}},
{"data":{"name":"p14"},"width":98,"height":65,"mark":{"type":"line","clip":true,"interpolate":"monotone","strokeWidth":1.5},"encoding":{"x":{"field":"x","type":"quantitative","scale":{"domain":[0.855,3.23],"nice":false,"zero":false},"axis":{"title":null,"values":[1.5,2.0,2.5,3.0],"format":".1f","offset":-25.6}},"y":{"field":"y","type":"quantitative","scale":{"domain":[-1.17,1.8],"nice":false,"zero":false},"axis":{"title":null,"values":[-1,-0.5,0.5,1,1.5],"labelExpr":"datum.value < 0 ? '-' + format(-datum.value, '.1f') : format(datum.value, '.1f')"}},"color":{"field":"s","type":"nominal","scale":{"domain":["a","b"],"range":["#5E81B5","#E19C24"]},"legend":null}}},
{"data":{"name":"p15"},"width":98,"height":65,"mark":{"type":"line","clip":true,"interpolate":"monotone","strokeWidth":1.5},"encoding":{"x":{"field":"x","type":"quantitative","scale":{"domain":[1.0,3.32],"nice":false,"zero":false},"axis":{"title":null,"values":[1.5,2.0,2.5,3.0],"format":".1f","offset":-25.7}},"y":{"field":"y","type":"quantitative","scale":{"domain":[-1.2,1.83],"nice":false,"zero":false},"axis":{"title":null,"values":[-1,-0.5,0.5,1,1.5],"labelExpr":"datum.value < 0 ? '-' + format(-datum.value, '.1f') : format(datum.value, '.1f')"}},"color":{"field":"s","type":"nominal","scale":{"domain":["a","b"],"range":["#5E81B5","#E19C24"]},"legend":null}}},
{"data":{"name":"p16"},"width":98,"height":65,"mark":{"type":"line","clip":true,"interpolate":"monotone","strokeWidth":1.5},"encoding":{"x":{"field":"x","type":"quantitative","scale":{"domain":[0.93,3.39],"nice":false,"zero":false},"axis":{"title":null,"values":[1.5,2.0,2.5,3.0],"format":".1f","offset":-25.6}},"y":{"field":"y","type":"quantitative","scale":{"domain":[-1.2,1.85],"nice":false,"zero":false},"axis":{"title":null,"values":[-1,-0.5,0.5,1,1.5],"labelExpr":"datum.value < 0 ? '-' + format(-datum.value, '.1f') : format(datum.value, '.1f')"}},"color":{"field":"s","type":"nominal","scale":{"domain":["a","b"],"range":["#5E81B5","#E19C24"]},"legend":null}}}
],
"config":{
"view":{"stroke":null},
"axis":{"grid":false,"domainColor":"#b3b3b3","tickColor":"#b3b3b3","labelColor":"#7a7a7a","labelFont":"Liberation Sans","labelFontSize":8,"tickSize":3,"labelPadding":1,"labelFlush":false,"labelOverlap":false}
}
}
